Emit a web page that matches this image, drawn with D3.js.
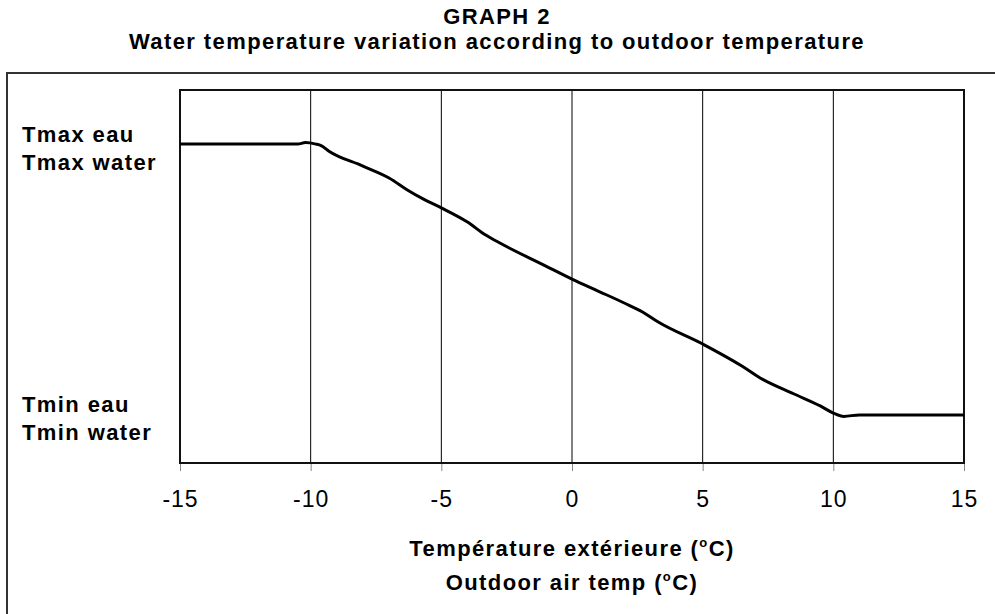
<!DOCTYPE html>
<html>
<head>
<meta charset="utf-8">
<script src="https://cdn.jsdelivr.net/npm/d3@7/dist/d3.min.js"></script>
<style>
  html, body { margin: 0; padding: 0; background: #fff; }
  svg { display: block; font-family: "Liberation Sans", Arial, sans-serif; }
</style>
</head>
<body>
<svg id="chart" width="995" height="614"></svg>
<script>
// ---- data ----
const titleLines = ["GRAPH 2", "Water temperature variation according to outdoor temperature"];
const xTicks = [-15, -10, -5, 0, 5, 10, 15];
const xTitleLines = ["Température extérieure", "Outdoor air temp"];
const yLabelsMax = ["Tmax eau", "Tmax water"];
const yLabelsMin = ["Tmin eau", "Tmin water"];
const outdoorTemp = [-15, -10.5, -10.2, -9.8, -9.6, -9.3, -8, -7, -6.3, -5.7, -5, -4, -3.3, -2.9, -1, 0, 1, 2, 2.7, 3.3, 5, 6.5, 7.2, 8.5, 9.5, 10, 10.4, 11, 15];
const waterTemp   = [85.5, 85.5, 85.9, 85.5, 85.1, 83.6, 79.6, 76.4, 73.2, 70.8, 68.4, 64.6, 61.1, 59.5, 52.8, 49.3, 46.1, 42.9, 40.5, 37.8, 31.9, 26.0, 22.8, 18.5, 15.3, 13.4, 12.5, 12.9, 12.9];
const yDomain = [0, 100];

// ---- layout ----
const svg = d3.select("#chart");
const plot = { left: 180, right: 964, top: 90, bottom: 463 };
const x = d3.scaleLinear().domain([-15, 15]).range([plot.left, plot.right]);
const y = d3.scaleLinear().domain(yDomain).range([plot.bottom, plot.top]);
const FS = 22, LS = 1.4;

// outer frame
svg.append("rect").attr("x", 7).attr("y", 73).attr("width", 1000).attr("height", 600)
  .attr("fill", "none").attr("stroke", "#333").attr("stroke-width", 2);

// title
svg.append("text").attr("x", 497).attr("y", 24).attr("text-anchor", "middle")
  .attr("font-weight", "bold").attr("font-size", FS).attr("letter-spacing", LS).text(titleLines[0]);
svg.append("text").attr("x", 497).attr("y", 49).attr("text-anchor", "middle")
  .attr("font-weight", "bold").attr("font-size", FS).attr("letter-spacing", LS).text(titleLines[1]);

// gridlines
svg.append("g").selectAll("line").data(xTicks.filter(d => d > -15 && d < 15)).join("line")
  .attr("x1", d => x(d)).attr("x2", d => x(d)).attr("y1", plot.top).attr("y2", plot.bottom)
  .attr("stroke", "#000").attr("stroke-width", 1);

// x axis
const xAxis = d3.axisBottom(x).tickValues(xTicks).tickSize(8).tickPadding(20).tickFormat(d => String(d));
const gx = svg.append("g").attr("transform", `translate(0,${plot.bottom})`).call(xAxis);
gx.select(".domain").remove();
gx.selectAll(".tick line").attr("stroke", "#888");
gx.selectAll(".tick text").attr("font-size", 23).attr("letter-spacing", 1)
  .attr("font-family", "Liberation Sans, Arial, sans-serif").attr("fill", "#000");

// plot frame
svg.append("rect").attr("x", plot.left).attr("y", plot.top)
  .attr("width", plot.right - plot.left).attr("height", plot.bottom - plot.top)
  .attr("fill", "none").attr("stroke", "#111").attr("stroke-width", 2);

// curve
const line = d3.line().x((d, i) => x(outdoorTemp[i])).y(d => y(d)).curve(d3.curveMonotoneX);
svg.append("path").datum(waterTemp).attr("d", line)
  .attr("fill", "none").attr("stroke", "#000").attr("stroke-width", 3).attr("stroke-linejoin", "round");

// y labels
function yLabel(lines, baseY) {
  lines.forEach((t, i) => {
    svg.append("text").attr("x", 22).attr("y", baseY + i * 28)
      .attr("font-weight", "bold").attr("font-size", FS).attr("letter-spacing", LS).text(t);
  });
}
yLabel(yLabelsMax, 142);
yLabel(yLabelsMin, 412);

// x axis title
xTitleLines.forEach((t, i) => {
  const tx = svg.append("text").attr("x", x(0)).attr("y", 556 + i * 34)
    .attr("text-anchor", "middle").attr("font-weight", "bold").attr("font-size", FS).attr("letter-spacing", LS);
  tx.append("tspan").text(t + " (");
  tx.append("tspan").attr("font-size", 13).attr("dy", -9).text("o");
  tx.append("tspan").attr("dy", 9).text("C)");
});
</script>
</body>
</html>
